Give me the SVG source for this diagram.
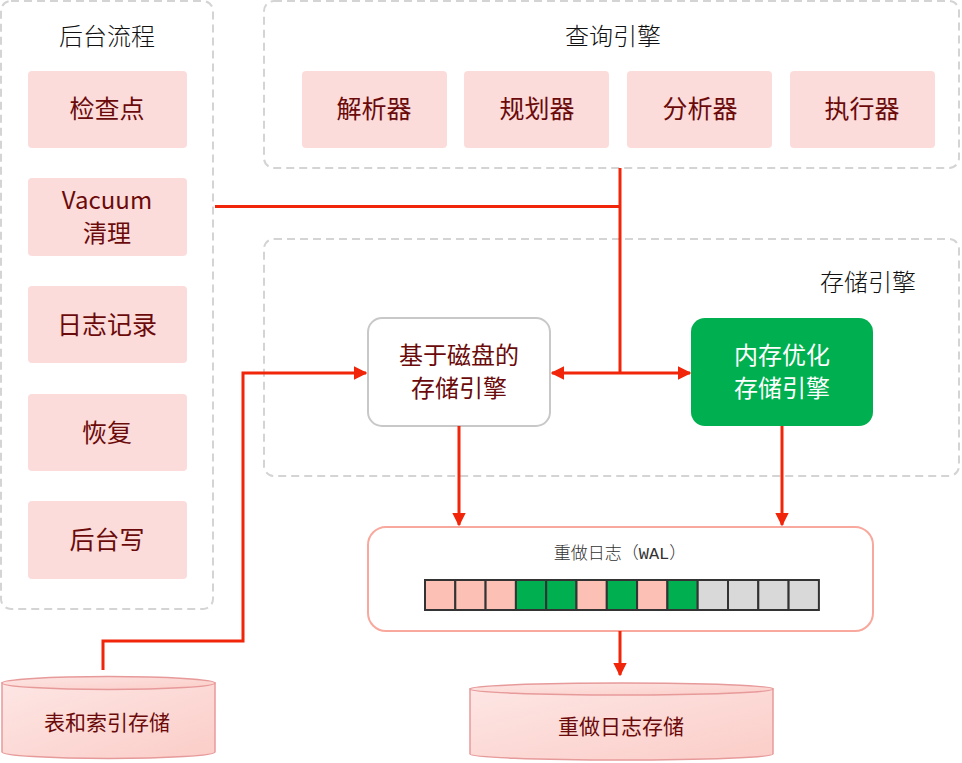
<svg xmlns="http://www.w3.org/2000/svg" width="962" height="763" viewBox="0 0 962 763">
<style>
.cont{fill:#fff;stroke:#d4d4d4;stroke-width:2;stroke-dasharray:8 5}
.title{font-family:"Noto Sans CJK SC",sans-serif;font-size:24px;fill:#111;font-weight:300;text-anchor:middle}
.pk{fill:#fcdcdb}
.nt{font-family:"Noto Sans CJK SC",sans-serif;font-size:25px;fill:#6b0a0a;text-anchor:middle}
.nt2{font-family:"Noto Sans CJK SC",sans-serif;font-size:24px;fill:#6b0a0a;text-anchor:middle}
.wt{font-family:"Noto Sans CJK SC",sans-serif;font-size:24px;fill:#fff;text-anchor:middle}
.ln{fill:none;stroke:#f0250a;stroke-width:3}
.cell{stroke:#333;stroke-width:2}
.p{fill:#fcc0b4}.g{fill:#00b050}.y{fill:#d9d9d9}
.cyl{fill:url(#cg);stroke:#e79a9a;stroke-width:1.5}
.ct{font-family:"Noto Sans CJK SC",sans-serif;font-size:21px;fill:#6b0a0a;text-anchor:middle}
</style>
<defs>
<marker id="ar" viewBox="0 0 10 10" refX="9" refY="5" markerWidth="4.5" markerHeight="4.5" orient="auto-start-reverse" markerUnits="strokeWidth">
<path d="M0,0L10,5L0,10z" fill="#f0250a"/>
</marker>
<linearGradient id="cg" x1="0" y1="0" x2="1" y2="1">
<stop offset="0" stop-color="#fde6e4"/>
<stop offset="1" stop-color="#fbcdc8"/>
</linearGradient>
</defs>

<g id="backend">
<rect class="cont" x="1" y="1" width="212" height="608" rx="10"/>
<text class="title" x="107" y="45">后台流程</text>
</g>
<g id="checkpoint"><rect class="pk" x="28" y="71" width="159" height="77" rx="4"/><text class="nt" x="107" y="118">检查点</text></g>
<g id="vacuum"><rect class="pk" x="28" y="178" width="159" height="78" rx="4"/><text class="nt2" x="107" y="209">Vacuum</text><text class="nt2" x="107" y="242">清理</text></g>
<g id="logging"><rect class="pk" x="28" y="286" width="159" height="77" rx="4"/><text class="nt" x="107" y="334">日志记录</text></g>
<g id="recovery"><rect class="pk" x="28" y="394" width="159" height="77" rx="4"/><text class="nt" x="107" y="442">恢复</text></g>
<g id="bgwriter"><rect class="pk" x="28" y="501" width="159" height="78" rx="4"/><text class="nt" x="107" y="549">后台写</text></g>

<g id="query">
<rect class="cont" x="264" y="1" width="695" height="167" rx="10"/>
<text class="title" x="613" y="45">查询引擎</text>
</g>
<g id="parser"><rect class="pk" x="302" y="71" width="145" height="77" rx="4"/><text class="nt" x="374" y="118">解析器</text></g>
<g id="planner"><rect class="pk" x="464" y="71" width="145" height="77" rx="4"/><text class="nt" x="537" y="118">规划器</text></g>
<g id="analyzer"><rect class="pk" x="627" y="71" width="145" height="77" rx="4"/><text class="nt" x="700" y="118">分析器</text></g>
<g id="executor"><rect class="pk" x="790" y="71" width="145" height="77" rx="4"/><text class="nt" x="862" y="118">执行器</text></g>

<g id="storage">
<rect class="cont" x="264" y="239" width="695" height="237" rx="10"/>
<text class="title" x="868" y="291">存储引擎</text>
</g>
<g id="disk"><rect x="368" y="318" width="182" height="108" rx="14" fill="#fff" stroke="#c8c8c8" stroke-width="2"/><text class="nt2" x="459" y="364">基于磁盘的</text><text class="nt2" x="459" y="397">存储引擎</text></g>
<g id="memory"><rect x="691" y="318" width="182" height="108" rx="14" fill="#00b050"/><text class="wt" x="782" y="364">内存优化</text><text class="wt" x="782" y="397">存储引擎</text></g>

<g id="wal">
<rect x="368" y="527" width="505" height="104" rx="18" fill="#fff" stroke="#f8a89c" stroke-width="2"/>
<text x="620" y="559" text-anchor="middle" font-family="'Noto Sans CJK SC',sans-serif" font-size="17" fill="#333" font-weight="300">重做日志（<tspan font-family="'Liberation Mono',monospace">WAL</tspan>）</text>
<rect class="cell p" x="425" y="580" width="30.3" height="30"/>
<rect class="cell p" x="455.3" y="580" width="30.3" height="30"/>
<rect class="cell p" x="485.6" y="580" width="30.3" height="30"/>
<rect class="cell g" x="515.9" y="580" width="30.3" height="30"/>
<rect class="cell g" x="546.2" y="580" width="30.3" height="30"/>
<rect class="cell p" x="576.5" y="580" width="30.3" height="30"/>
<rect class="cell g" x="606.8" y="580" width="30.3" height="30"/>
<rect class="cell p" x="637.1" y="580" width="30.3" height="30"/>
<rect class="cell g" x="667.4" y="580" width="30.3" height="30"/>
<rect class="cell y" x="697.7" y="580" width="30.3" height="30"/>
<rect class="cell y" x="728" y="580" width="30.3" height="30"/>
<rect class="cell y" x="758.3" y="580" width="30.3" height="30"/>
<rect class="cell y" x="788.6" y="580" width="30.3" height="30"/>
</g>

<g id="tablestore">
<path class="cyl" d="M2,683 L2,752 A106.5,6.5 0 0 0 215,752 L215,683 Z"/>
<ellipse class="cyl" cx="108.5" cy="683" rx="106.5" ry="6.5"/>
<text class="ct" x="107" y="730">表和索引存储</text>
</g>
<g id="walstore">
<path class="cyl" d="M470,689 L470,754 A151.5,6 0 0 0 773,754 L773,689 Z"/>
<ellipse class="cyl" cx="621.5" cy="689" rx="151.5" ry="6"/>
<text class="ct" x="621" y="734">重做日志存储</text>
</g>

<g id="connectors">
<polyline class="ln" points="215,206.5 620,206.5"/>
<line class="ln" x1="620" y1="168" x2="620" y2="373"/>
<line class="ln" x1="620" y1="373" x2="552" y2="373" marker-end="url(#ar)"/>
<line class="ln" x1="620" y1="373" x2="690" y2="373" marker-end="url(#ar)"/>
<polyline class="ln" points="103,670 103,641 243,641 243,373 366,373" marker-end="url(#ar)"/>
<line class="ln" x1="459" y1="426" x2="459" y2="525" marker-end="url(#ar)"/>
<line class="ln" x1="782" y1="426" x2="782" y2="525" marker-end="url(#ar)"/>
<line class="ln" x1="620" y1="631" x2="620" y2="675" marker-end="url(#ar)"/>
</g>
</svg>
